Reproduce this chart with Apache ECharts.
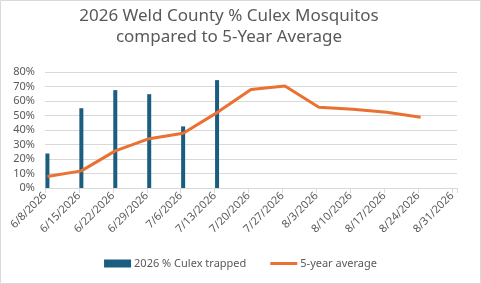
<!DOCTYPE html>
<html>
<head>
<meta charset="utf-8">
<script src="https://cdn.jsdelivr.net/npm/echarts@6/dist/echarts.min.js"></script>
<style>
  html, body { margin: 0; padding: 0; background: #fff; }
  #chart { width: 481px; height: 284px; }
</style>
</head>
<body>
<div id="chart"></div>
<script>
// Week start dates shown on the axis (one tick every 7 days)
var tickLabels = ['6/8/2026', '6/15/2026', '6/22/2026', '6/29/2026', '7/6/2026', '7/13/2026',
    '7/20/2026', '7/27/2026', '8/3/2026', '8/10/2026', '8/17/2026', '8/24/2026', '8/31/2026'];

// 2026 trap results
var trapDates = ['6/8/2026', '6/15/2026', '6/22/2026', '6/29/2026', '7/6/2026', '7/13/2026'];
var trapValues = [0.238, 0.55, 0.675, 0.647, 0.425, 0.744];

// 5-year average
var avgDates = ['6/8/2026', '6/15/2026', '6/22/2026', '6/29/2026', '7/6/2026', '7/13/2026',
    '7/20/2026', '7/27/2026', '8/3/2026', '8/10/2026', '8/17/2026', '8/24/2026'];
var avgValues = [0.079, 0.118, 0.256, 0.34, 0.377, 0.52, 0.68, 0.703, 0.557, 0.543, 0.522, 0.488];

// Days since 6/8/2026; points sit in the middle of their day like Excel's date axis
function dayOffset(s) {
    var p = s.split('/');
    var d = Date.UTC(+p[2], +p[0] - 1, +p[1]);
    return Math.round((d - Date.UTC(2026, 5, 8)) / 86400000);
}
function toPoints(dates, vals) {
    return dates.map(function (d, i) { return [dayOffset(d) + 0.5, vals[i]]; });
}

var textColor = '#595959';
var fontFam = 'Noto Sans, sans-serif';

var chart = echarts.init(document.getElementById('chart'));
chart.setOption({
    animation: false,
    title: {
        text: '2026 Weld County % Culex Mosquitos\ncompared to 5-Year Average',
        left: 224,
        top: 1,
        textAlign: 'center',
        textStyle: { fontSize: 17, fontWeight: 'normal', color: textColor, fontFamily: fontFam, lineHeight: 21 }
    },
    graphic: [{
        type: 'rect',
        shape: { x: 0.5, y: 0.5, width: 480, height: 283 },
        style: { fill: 'none', stroke: '#d9d9d9', lineWidth: 1 },
        silent: true
    }],
    legend: {
        bottom: 10,
        left: 'center',
        itemWidth: 27,
        itemHeight: 8,
        itemGap: 24,
        textStyle: { fontSize: 11, color: textColor, fontFamily: fontFam, padding: [0, 0, 0, -2] },
        data: [
            { name: '2026 % Culex trapped', icon: 'rect' },
            { name: '5-year average', icon: 'path://M0,0 H27 V3 H0 Z' }
        ]
    },
    grid: { left: 45, right: 24, top: 72, bottom: 96, containLabel: false },
    xAxis: {
        type: 'value',
        min: 0,
        max: 85,
        interval: 7,
        splitLine: { show: false },
        axisLine: { show: true, lineStyle: { color: '#d9d9d9' } },
        axisTick: { show: true, length: 5, lineStyle: { color: '#d9d9d9' } },
        axisLabel: {
            rotate: 45,
            fontSize: 11,
            color: textColor,
            fontFamily: fontFam,
            margin: 6,
            formatter: function (v) {
                if (v % 7 !== 0) return '';
                return tickLabels[v / 7] || '';
            }
        }
    },
    yAxis: {
        type: 'value',
        min: 0,
        max: 0.8,
        interval: 0.1,
        axisLine: { show: false },
        axisTick: { show: false },
        splitLine: { lineStyle: { color: '#d9d9d9' } },
        axisLabel: {
            fontSize: 11,
            color: textColor,
            fontFamily: fontFam,
            margin: 10,
            formatter: function (v) { return Math.round(v * 100) + '%'; }
        }
    },
    series: [
        {
            name: '2026 % Culex trapped',
            type: 'bar',
            barWidth: 4,
            itemStyle: { color: '#1b5d7e' },
            data: toPoints(trapDates, trapValues)
        },
        {
            name: '5-year average',
            type: 'line',
            symbol: 'none',
            lineStyle: { color: '#e97132', width: 3 },
            itemStyle: { color: '#e97132' },
            data: toPoints(avgDates, avgValues)
        }
    ]
});
</script>
</body>
</html>
